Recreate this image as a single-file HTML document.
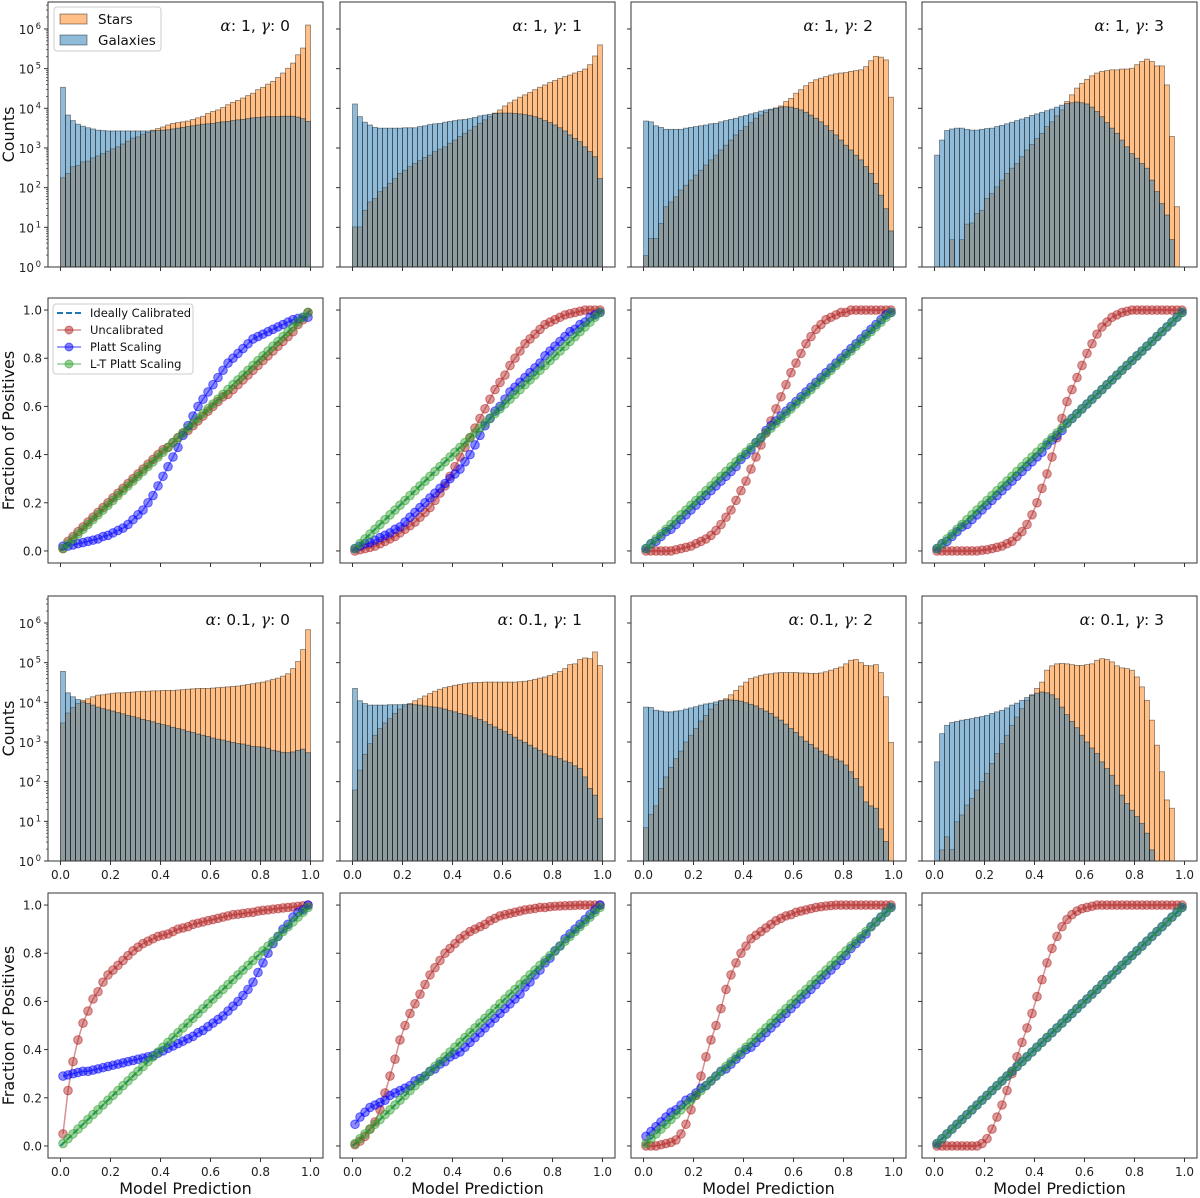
<!DOCTYPE html>
<html><head><meta charset="utf-8"><title>Calibration grid</title>
<style>
html,body{margin:0;padding:0;background:#fff;}
svg{display:block;font-family:"DejaVu Sans","Liberation Sans",sans-serif;}
</style></head>
<body>
<svg id="fig" xmlns="http://www.w3.org/2000/svg" width="1200" height="1198" viewBox="0 0 1200 1198"></svg>
<script>
// ---------- data ----------
const binCenters = [0.01,0.03,0.05,0.07,0.09,0.11,0.13,0.15,0.17,0.19,0.21,0.23,0.25,0.27,0.29,0.31,0.33,0.35,0.37,0.39,0.41,0.43,0.45,0.47,0.49,0.51,0.53,0.55,0.57,0.59,0.61,0.63,0.65,0.67,0.69,0.71,0.73,0.75,0.77,0.79,0.81,0.83,0.85,0.87,0.89,0.91,0.93,0.95,0.97,0.99];
const xTickLabels = ["0.0","0.2","0.4","0.6","0.8","1.0"];
const xTickValues = [0,0.2,0.4,0.6,0.8,1.0];
const calTickValues = [0,0.2,0.4,0.6,0.8,1.0];
const calTickLabels = ["0.0","0.2","0.4","0.6","0.8","1.0"];
const logTickExponents = [0,1,2,3,4,5,6];
const panelTitles = ["α: 1, γ: 0","α: 1, γ: 1","α: 1, γ: 2","α: 1, γ: 3","α: 0.1, γ: 0","α: 0.1, γ: 1","α: 0.1, γ: 2","α: 0.1, γ: 3"];

// histogram values: log10(counts) per bin (0 = empty bin)
const stars_a1_g0 = [2.25,2.36,2.53,2.56,2.65,2.67,2.75,2.8,2.86,2.92,2.98,3.03,3.1,3.17,3.25,3.28,3.35,3.39,3.45,3.49,3.53,3.58,3.62,3.64,3.66,3.68,3.72,3.76,3.8,3.87,3.92,3.96,4.02,4.09,4.15,4.2,4.26,4.32,4.38,4.47,4.53,4.61,4.68,4.78,4.89,5.01,5.14,5.35,5.52,6.1];
const galaxies_a1_g0 = [4.53,3.83,3.69,3.6,3.55,3.51,3.48,3.45,3.44,3.43,3.43,3.43,3.43,3.43,3.43,3.43,3.43,3.43,3.43,3.44,3.45,3.46,3.48,3.5,3.52,3.54,3.56,3.58,3.6,3.61,3.62,3.64,3.66,3.67,3.69,3.71,3.72,3.74,3.76,3.77,3.78,3.79,3.79,3.79,3.8,3.8,3.8,3.78,3.74,3.67];
const stars_a1_g1 = [1.01,1.01,1.43,1.64,1.73,1.9,2.0,2.11,2.23,2.36,2.44,2.53,2.61,2.68,2.76,2.82,2.91,2.97,3.03,3.12,3.2,3.29,3.37,3.45,3.54,3.62,3.71,3.79,3.88,3.96,4.06,4.14,4.21,4.28,4.34,4.4,4.47,4.53,4.59,4.65,4.7,4.75,4.8,4.84,4.89,4.93,4.99,5.1,5.32,5.6];
const galaxies_a1_g1 = [4.11,3.79,3.65,3.58,3.52,3.5,3.5,3.5,3.5,3.5,3.51,3.51,3.51,3.54,3.56,3.59,3.61,3.62,3.65,3.67,3.69,3.71,3.72,3.74,3.77,3.81,3.83,3.85,3.87,3.88,3.88,3.88,3.87,3.86,3.84,3.82,3.79,3.75,3.69,3.64,3.58,3.51,3.43,3.33,3.24,3.16,3.03,2.91,2.78,2.23];
const stars_a1_g2 = [0.29,0.72,0.72,1.1,1.52,1.64,1.77,1.94,2.06,2.19,2.32,2.44,2.57,2.7,2.82,2.95,3.07,3.2,3.33,3.44,3.54,3.64,3.75,3.83,3.9,3.96,4.0,4.06,4.17,4.25,4.38,4.47,4.57,4.65,4.72,4.76,4.8,4.84,4.87,4.89,4.9,4.93,4.95,4.97,5.05,5.2,5.31,5.29,5.22,4.28];
const galaxies_a1_g2 = [3.68,3.66,3.56,3.52,3.47,3.47,3.47,3.47,3.5,3.52,3.54,3.56,3.58,3.61,3.62,3.66,3.69,3.72,3.75,3.79,3.82,3.86,3.89,3.93,3.96,3.98,4.01,4.03,4.04,4.03,4.0,3.96,3.9,3.83,3.75,3.66,3.56,3.44,3.33,3.2,3.07,2.95,2.82,2.7,2.53,2.36,2.11,1.81,1.47,0.91];
const stars_a1_g3 = [0,0,0,0.69,0,0.69,1.08,1.11,1.35,1.43,1.73,1.85,2.02,2.19,2.36,2.49,2.61,2.78,2.95,3.09,3.24,3.37,3.54,3.66,3.81,3.96,4.17,4.34,4.51,4.63,4.73,4.82,4.89,4.93,4.95,4.97,4.97,4.99,4.99,5.01,5.1,5.18,5.24,5.18,5.07,5.07,4.59,3.29,1.52,0];
const galaxies_a1_g3 = [2.82,3.2,3.44,3.48,3.5,3.5,3.47,3.45,3.45,3.47,3.49,3.5,3.54,3.57,3.61,3.65,3.69,3.73,3.77,3.82,3.86,3.9,3.94,3.98,4.03,4.08,4.12,4.14,4.16,4.14,4.11,4.03,3.92,3.79,3.64,3.5,3.37,3.2,3.03,2.86,2.74,2.61,2.49,2.19,1.9,1.6,1.31,0.69,0,0];
const stars_a01_g0 = [3.48,3.73,3.87,3.97,4.05,4.09,4.14,4.18,4.19,4.21,4.23,4.24,4.24,4.25,4.26,4.27,4.28,4.28,4.29,4.29,4.3,4.3,4.3,4.31,4.32,4.33,4.34,4.35,4.35,4.35,4.36,4.37,4.38,4.39,4.4,4.41,4.43,4.45,4.47,4.49,4.51,4.54,4.58,4.61,4.66,4.72,4.85,5.03,5.33,5.83];
const galaxies_a01_g0 = [4.78,4.24,4.14,4.07,4.01,3.97,3.93,3.88,3.84,3.81,3.78,3.74,3.71,3.67,3.64,3.61,3.57,3.54,3.51,3.47,3.44,3.41,3.37,3.34,3.31,3.27,3.24,3.2,3.17,3.14,3.1,3.07,3.05,3.02,2.99,2.96,2.95,2.92,2.89,2.88,2.87,2.84,2.79,2.77,2.74,2.73,2.75,2.79,2.82,2.73];
const stars_a01_g1 = [1.79,2.29,2.69,2.96,3.17,3.34,3.48,3.59,3.72,3.83,3.91,3.97,4.04,4.09,4.16,4.22,4.28,4.33,4.37,4.4,4.43,4.45,4.47,4.49,4.5,4.5,4.51,4.51,4.51,4.51,4.51,4.51,4.51,4.52,4.53,4.55,4.58,4.61,4.64,4.68,4.72,4.78,4.85,4.95,4.97,5.08,5.12,5.1,5.27,4.93];
const galaxies_a01_g1 = [4.35,4.04,3.97,3.93,3.93,3.93,3.93,3.94,3.94,3.94,3.95,3.95,3.94,3.93,3.91,3.89,3.88,3.86,3.83,3.79,3.76,3.72,3.69,3.66,3.61,3.57,3.51,3.44,3.38,3.32,3.26,3.19,3.12,3.05,2.99,2.92,2.85,2.79,2.7,2.65,2.63,2.58,2.52,2.48,2.4,2.33,2.12,1.83,1.66,1.07];
const stars_a01_g2 = [0.84,1.17,1.39,1.83,2.12,2.36,2.58,2.77,3.0,3.17,3.34,3.53,3.67,3.83,3.94,4.04,4.09,4.19,4.3,4.41,4.51,4.6,4.64,4.68,4.71,4.72,4.74,4.75,4.75,4.75,4.75,4.74,4.74,4.73,4.73,4.74,4.77,4.81,4.85,4.89,4.97,5.06,5.08,5.0,4.93,4.92,4.95,4.75,4.14,2.99];
const galaxies_a01_g2 = [3.88,3.87,3.8,3.78,3.76,3.76,3.78,3.79,3.83,3.86,3.89,3.93,3.96,3.98,4.01,4.04,4.06,4.06,4.05,4.03,3.99,3.95,3.91,3.84,3.78,3.72,3.63,3.55,3.45,3.34,3.24,3.13,3.02,2.94,2.85,2.77,2.68,2.63,2.57,2.52,2.42,2.25,2.08,1.87,1.49,1.39,1.33,0.81,0.49,0];
const stars_a01_g3 = [0,0.28,0.61,0.29,0.99,1.16,1.41,1.58,1.79,2.0,2.21,2.46,2.71,2.96,3.17,3.42,3.63,3.84,4.05,4.19,4.35,4.51,4.81,4.92,4.97,4.98,4.97,4.95,4.93,4.93,4.95,4.97,5.06,5.1,5.08,5.02,4.92,4.87,4.85,4.81,4.64,4.39,4.05,3.55,2.92,2.25,1.54,1.33,0,0];
const galaxies_a01_g3 = [2.5,3.21,3.42,3.49,3.52,3.55,3.57,3.59,3.62,3.64,3.67,3.72,3.76,3.8,3.86,3.93,3.98,4.05,4.12,4.18,4.23,4.26,4.24,4.19,4.09,3.88,3.69,3.52,3.36,3.17,3.0,2.85,2.71,2.5,2.33,2.16,1.91,1.66,1.45,1.28,1.12,0.95,0.7,0.28,0,0,0,0,0,0];

// calibration curves: fraction of positives per bin
const uncal_a1_g0 = [0.01,0.04,0.06,0.08,0.1,0.12,0.14,0.16,0.18,0.2,0.22,0.24,0.26,0.28,0.3,0.32,0.34,0.36,0.38,0.4,0.42,0.43,0.45,0.47,0.49,0.5,0.52,0.54,0.56,0.58,0.6,0.62,0.64,0.65,0.67,0.69,0.71,0.73,0.75,0.77,0.79,0.81,0.83,0.85,0.87,0.89,0.91,0.94,0.96,0.99];
const platt_a1_g0 = [0.02,0.02,0.025,0.03,0.035,0.04,0.045,0.05,0.06,0.065,0.075,0.085,0.095,0.11,0.13,0.15,0.17,0.2,0.23,0.27,0.31,0.35,0.39,0.43,0.48,0.52,0.56,0.6,0.63,0.66,0.69,0.72,0.75,0.78,0.8,0.82,0.84,0.86,0.88,0.89,0.9,0.91,0.92,0.93,0.94,0.95,0.96,0.965,0.97,0.97];
const ltplatt_a1_g0 = [0.01,0.03,0.05,0.07,0.09,0.11,0.13,0.15,0.17,0.19,0.21,0.23,0.25,0.27,0.29,0.31,0.33,0.35,0.37,0.39,0.41,0.43,0.45,0.47,0.49,0.51,0.53,0.55,0.57,0.59,0.61,0.63,0.65,0.67,0.69,0.71,0.73,0.75,0.77,0.79,0.81,0.83,0.85,0.87,0.89,0.91,0.93,0.95,0.97,0.99];
const uncal_a1_g1 = [0,0.005,0.01,0.015,0.02,0.03,0.04,0.05,0.06,0.075,0.09,0.105,0.12,0.14,0.16,0.18,0.21,0.24,0.27,0.31,0.35,0.39,0.43,0.47,0.51,0.55,0.59,0.63,0.67,0.7,0.73,0.77,0.8,0.83,0.86,0.88,0.9,0.92,0.94,0.95,0.96,0.97,0.98,0.985,0.99,0.995,1,1,1,1];
const platt_a1_g1 = [0.01,0.02,0.03,0.035,0.045,0.055,0.065,0.075,0.09,0.1,0.12,0.14,0.16,0.18,0.2,0.22,0.24,0.26,0.28,0.3,0.32,0.34,0.37,0.4,0.44,0.48,0.52,0.55,0.58,0.6,0.63,0.66,0.68,0.7,0.72,0.74,0.76,0.78,0.81,0.83,0.85,0.87,0.89,0.91,0.92,0.94,0.95,0.97,0.98,0.99];
const ltplatt_a1_g1 = [0.01,0.03,0.05,0.07,0.09,0.11,0.13,0.15,0.17,0.19,0.21,0.23,0.25,0.27,0.29,0.31,0.33,0.35,0.37,0.39,0.41,0.43,0.45,0.47,0.49,0.51,0.53,0.55,0.57,0.59,0.61,0.63,0.65,0.67,0.69,0.71,0.73,0.75,0.77,0.79,0.81,0.83,0.85,0.87,0.89,0.91,0.93,0.95,0.97,0.99];
const uncal_a1_g2 = [0,0,0,0,0,0,0.005,0.01,0.015,0.02,0.03,0.04,0.05,0.065,0.085,0.11,0.14,0.17,0.21,0.25,0.29,0.34,0.39,0.44,0.49,0.54,0.59,0.64,0.69,0.74,0.78,0.82,0.86,0.89,0.92,0.94,0.96,0.97,0.98,0.99,0.99,1,1,1,1,1,1,1,1,1];
const platt_a1_g2 = [0.01,0.03,0.04,0.06,0.08,0.09,0.11,0.13,0.15,0.17,0.19,0.21,0.23,0.25,0.27,0.29,0.31,0.33,0.35,0.38,0.4,0.42,0.45,0.47,0.5,0.52,0.54,0.56,0.58,0.6,0.62,0.64,0.66,0.68,0.7,0.72,0.74,0.76,0.78,0.8,0.82,0.84,0.86,0.88,0.9,0.92,0.94,0.96,0.98,0.99];
const ltplatt_a1_g2 = [0.01,0.03,0.05,0.07,0.09,0.11,0.13,0.15,0.17,0.19,0.21,0.23,0.25,0.27,0.29,0.31,0.33,0.35,0.37,0.39,0.41,0.43,0.45,0.47,0.49,0.51,0.53,0.55,0.57,0.59,0.61,0.63,0.65,0.67,0.69,0.71,0.73,0.75,0.77,0.79,0.81,0.83,0.85,0.87,0.89,0.91,0.93,0.95,0.97,0.99];
const uncal_a1_g3 = [0,0,0,0,0,0,0,0,0,0.003,0.005,0.01,0.015,0.02,0.03,0.04,0.06,0.08,0.11,0.15,0.2,0.26,0.32,0.39,0.47,0.55,0.62,0.67,0.72,0.77,0.82,0.86,0.9,0.93,0.95,0.97,0.98,0.99,0.995,1,1,1,1,1,1,1,1,1,1,1];
const platt_a1_g3 = [0.01,0.03,0.04,0.06,0.08,0.1,0.11,0.13,0.15,0.17,0.19,0.21,0.23,0.25,0.27,0.29,0.31,0.33,0.35,0.37,0.39,0.41,0.44,0.46,0.48,0.5,0.53,0.55,0.57,0.59,0.61,0.63,0.65,0.67,0.69,0.71,0.73,0.75,0.77,0.79,0.81,0.83,0.85,0.87,0.89,0.91,0.93,0.95,0.97,0.99];
const ltplatt_a1_g3 = [0.01,0.03,0.05,0.07,0.09,0.11,0.13,0.15,0.17,0.19,0.21,0.23,0.25,0.27,0.29,0.31,0.33,0.35,0.37,0.39,0.41,0.43,0.45,0.47,0.49,0.51,0.53,0.55,0.57,0.59,0.61,0.63,0.65,0.67,0.69,0.71,0.73,0.75,0.77,0.79,0.81,0.83,0.85,0.87,0.89,0.91,0.93,0.95,0.97,0.99];
const uncal_a01_g0 = [0.05,0.23,0.35,0.44,0.51,0.56,0.61,0.64,0.68,0.71,0.73,0.75,0.77,0.79,0.81,0.825,0.84,0.85,0.86,0.87,0.875,0.88,0.89,0.9,0.905,0.91,0.92,0.925,0.93,0.935,0.94,0.945,0.95,0.955,0.96,0.962,0.965,0.968,0.97,0.975,0.978,0.98,0.983,0.985,0.988,0.99,0.992,0.995,0.997,1];
const platt_a01_g0 = [0.29,0.295,0.3,0.305,0.31,0.31,0.315,0.32,0.325,0.33,0.335,0.34,0.345,0.35,0.355,0.36,0.365,0.37,0.375,0.385,0.395,0.405,0.415,0.425,0.435,0.445,0.455,0.47,0.48,0.495,0.51,0.525,0.54,0.56,0.58,0.6,0.625,0.65,0.68,0.72,0.76,0.8,0.84,0.87,0.9,0.92,0.95,0.97,0.98,1];
const ltplatt_a01_g0 = [0.01,0.03,0.05,0.07,0.09,0.11,0.13,0.15,0.17,0.19,0.21,0.23,0.25,0.27,0.29,0.31,0.33,0.35,0.37,0.39,0.41,0.43,0.45,0.47,0.49,0.51,0.53,0.55,0.57,0.59,0.61,0.63,0.65,0.67,0.69,0.71,0.73,0.75,0.77,0.79,0.81,0.83,0.85,0.87,0.89,0.91,0.93,0.95,0.97,0.99];
const uncal_a01_g1 = [0.005,0.02,0.04,0.07,0.1,0.15,0.22,0.29,0.36,0.44,0.5,0.55,0.59,0.63,0.67,0.71,0.74,0.77,0.8,0.82,0.84,0.86,0.875,0.89,0.9,0.91,0.92,0.935,0.945,0.955,0.96,0.965,0.97,0.975,0.98,0.983,0.986,0.99,0.99,0.993,0.995,0.996,0.997,0.998,0.999,1,1,1,1,1];
const platt_a01_g1 = [0.09,0.12,0.14,0.16,0.17,0.18,0.19,0.21,0.22,0.23,0.24,0.25,0.27,0.28,0.29,0.31,0.32,0.34,0.35,0.37,0.38,0.39,0.41,0.43,0.45,0.47,0.49,0.51,0.53,0.55,0.57,0.59,0.61,0.63,0.66,0.68,0.71,0.73,0.76,0.78,0.81,0.83,0.86,0.88,0.9,0.92,0.94,0.96,0.98,1];
const ltplatt_a01_g1 = [0.01,0.03,0.05,0.07,0.09,0.11,0.13,0.15,0.17,0.19,0.21,0.23,0.25,0.27,0.29,0.31,0.33,0.35,0.37,0.39,0.41,0.43,0.45,0.47,0.49,0.51,0.53,0.55,0.57,0.59,0.61,0.63,0.65,0.67,0.69,0.71,0.73,0.75,0.77,0.79,0.81,0.83,0.85,0.87,0.89,0.91,0.93,0.95,0.97,0.99];
const uncal_a01_g2 = [0,0,0,0.005,0.01,0.015,0.025,0.05,0.09,0.15,0.21,0.29,0.37,0.44,0.5,0.57,0.65,0.71,0.76,0.8,0.83,0.86,0.875,0.89,0.905,0.92,0.935,0.945,0.955,0.96,0.97,0.975,0.98,0.985,0.99,0.993,0.996,0.998,1,1,1,1,1,1,1,1,1,1,1,1];
const platt_a01_g2 = [0.04,0.06,0.08,0.1,0.12,0.14,0.15,0.17,0.19,0.2,0.22,0.24,0.25,0.27,0.29,0.31,0.32,0.34,0.36,0.38,0.4,0.41,0.43,0.45,0.47,0.49,0.51,0.53,0.55,0.57,0.59,0.61,0.63,0.65,0.67,0.69,0.71,0.73,0.75,0.77,0.79,0.82,0.84,0.86,0.88,0.91,0.93,0.95,0.97,0.99];
const ltplatt_a01_g2 = [0.01,0.03,0.05,0.07,0.09,0.11,0.13,0.15,0.17,0.19,0.21,0.23,0.25,0.27,0.29,0.31,0.33,0.35,0.37,0.39,0.41,0.43,0.45,0.47,0.49,0.51,0.53,0.55,0.57,0.59,0.61,0.63,0.65,0.67,0.69,0.71,0.73,0.75,0.77,0.79,0.81,0.83,0.85,0.87,0.89,0.91,0.93,0.95,0.97,0.99];
const uncal_a01_g3 = [0,0,0,0,0,0,0,0,0,0.01,0.03,0.07,0.12,0.17,0.23,0.3,0.37,0.43,0.49,0.55,0.62,0.69,0.76,0.82,0.87,0.91,0.94,0.96,0.975,0.985,0.99,0.995,1,1,1,1,1,1,1,1,1,1,1,1,1,1,1,1,1,1];
const platt_a01_g3 = [0.01,0.03,0.05,0.07,0.09,0.11,0.13,0.15,0.17,0.19,0.21,0.23,0.25,0.27,0.29,0.31,0.33,0.35,0.37,0.39,0.41,0.43,0.45,0.47,0.49,0.51,0.53,0.55,0.57,0.59,0.61,0.63,0.65,0.67,0.69,0.71,0.73,0.75,0.77,0.79,0.81,0.83,0.85,0.87,0.89,0.91,0.93,0.95,0.97,0.99];
const ltplatt_a01_g3 = [0.01,0.03,0.05,0.07,0.09,0.11,0.13,0.15,0.17,0.19,0.21,0.23,0.25,0.27,0.29,0.31,0.33,0.35,0.37,0.39,0.41,0.43,0.45,0.47,0.49,0.51,0.53,0.55,0.57,0.59,0.61,0.63,0.65,0.67,0.69,0.71,0.73,0.75,0.77,0.79,0.81,0.83,0.85,0.87,0.89,0.91,0.93,0.95,0.97,0.99];

// ---------- layout ----------
const NS = "http://www.w3.org/2000/svg";
const svg = document.getElementById("fig");
const colLeft = [48, 340, 631, 922];
const rowTop = [2, 298, 596, 893];
const AW = 275, AH = 265;
const LOGMAX = 6.68;

function el(tag, attrs, parent) {
  const e = document.createElementNS(NS, tag);
  for (const k in attrs) e.setAttribute(k, attrs[k]);
  (parent || svg).appendChild(e);
  return e;
}
function xScale(col) { return v => colLeft[col] + AW * (v + 0.05) / 1.1; }
function yLog(row) { return L => rowTop[row] + AH - AH * L / LOGMAX; }
function yLin(row) { return v => rowTop[row] + AH - AH * (v + 0.05) / 1.1; }

function drawFrame(g, col, row) {
  const r = el("rect", {x: colLeft[col], y: rowTop[row], width: AW, height: AH, fill: "none", stroke: "#333", "stroke-width": 1}, g);
  
  
}

function drawXTicks(g, col, row, labels) {
  const xs = xScale(col), yb = rowTop[row] + AH;
  xTickValues.forEach((v, i) => {
    const t = el("line", {x1: xs(v), x2: xs(v), y1: yb, y2: yb + 4, stroke: "#333", "stroke-width": 1}, g);
    
    
    if (labels) {
      const tx = el("text", {x: xs(v), y: yb + 18, "font-size": 12, "text-anchor": "middle", fill: "#222"}, g);
      tx.textContent = xTickLabels[i];
      
      
    }
  });
}

function drawTitle(g, col, row, title) {
  const tt = el("text", {x: colLeft[col] + AW - 33, y: rowTop[row] + 29, "font-size": 15.5, "text-anchor": "end", fill: "#111"}, g);
  
  
  let buf = "";
  const flush = () => { if (buf) { const s = el("tspan", {}, tt); s.textContent = buf; buf = ""; } };
  for (const ch of title) {
    if (ch === "α" || ch === "γ") {
      flush();
      const s = el("tspan", {"font-style": "italic", "font-family": "DejaVu Serif, Liberation Serif, serif"}, tt);
      s.textContent = ch;
    } else buf += ch;
  }
  flush();
}

function drawHist(idx, col, row, stars, gals, title, withYLabels, withXLabels) {
  const g = el("g", {});
  
  
  const xs = xScale(col), ys = yLog(row), yb = rowTop[row] + AH;
  const bw = xs(0.02) - xs(0);
  [[stars, "#ff7f0e", "stars"], [gals, "#1f77b4", "galaxies"]].forEach(([arr, c, nm]) => {
    arr.forEach((L, i) => {
      if (L <= 0) return;
      const y = ys(L);
      const b = el("rect", {x: xs(i * 0.02), y: y, width: bw, height: yb - y, fill: c, "fill-opacity": 0.5, stroke: "#000", "stroke-opacity": 0.45, "stroke-width": 0.8}, g);
      
      
    });
  });
  drawFrame(g, col, row);
  logTickExponents.forEach(e => {
    const y = ys(e);
    const t = el("line", {x1: colLeft[col] - 4, x2: colLeft[col], y1: y, y2: y, stroke: "#333", "stroke-width": 1}, g);
    
    
    if (withYLabels) {
      const tx = el("text", {x: colLeft[col] - 14, y: y + 5, "font-size": 12, "text-anchor": "end", fill: "#222"}, g);
      tx.textContent = "10";
      const sup = el("tspan", {x: colLeft[col] - 7, dy: -5, "font-size": 8.5, "text-anchor": "end"}, tx);
      sup.textContent = String(e);
      
      
      for (let m = 2; m <= 9; m++) {
        const L = e + Math.log10(m);
        if (L > LOGMAX) break;
        const mt = el("line", {x1: colLeft[col] - 2, x2: colLeft[col], y1: ys(L), y2: ys(L), stroke: "#333", "stroke-width": 0.7}, g);
        
        
      }
    }
  });
  drawXTicks(g, col, row, withXLabels);
  drawTitle(g, col, row, title);
}

function drawCal(idx, col, row, uncal, platt, lt, withYLabels, withXLabels) {
  const g = el("g", {});
  
  
  const xs = xScale(col), ys = yLin(row);
  const ideal = el("line", {x1: xs(0), y1: ys(0), x2: xs(1), y2: ys(1), stroke: "#1f77b4", "stroke-width": 2, "stroke-dasharray": "6,3"}, g);
  
  
  [[uncal, "#b22222", "uncalibrated"], [platt, "#0000ff", "platt-scaling"], [lt, "#2ca02c", "lt-platt-scaling"]].forEach(([arr, c, nm]) => {
    const pts = arr.map((v, i) => xs(binCenters[i]).toFixed(1) + "," + ys(v).toFixed(1)).join(" ");
    const pl = el("polyline", {points: pts, fill: "none", stroke: c, "stroke-width": 1.5, "stroke-opacity": 0.5}, g);
    
    
    arr.forEach((v, i) => {
      const p = el("circle", {cx: xs(binCenters[i]), cy: ys(v), r: 4.3, fill: c, "fill-opacity": 0.45, stroke: c, "stroke-opacity": 0.55, "stroke-width": 1}, g);
      
      
    });
  });
  drawFrame(g, col, row);
  calTickValues.forEach((v, i) => {
    const y = ys(v);
    const t = el("line", {x1: colLeft[col] - 4, x2: colLeft[col], y1: y, y2: y, stroke: "#333", "stroke-width": 1}, g);
    
    
    if (withYLabels) {
      const tx = el("text", {x: colLeft[col] - 6, y: y + 4.5, "font-size": 12, "text-anchor": "end", fill: "#222"}, g);
      tx.textContent = calTickLabels[i];
      
      
    }
  });
  drawXTicks(g, col, row, withXLabels);
}

const histStars = [stars_a1_g0, stars_a1_g1, stars_a1_g2, stars_a1_g3, stars_a01_g0, stars_a01_g1, stars_a01_g2, stars_a01_g3];
const histGals = [galaxies_a1_g0, galaxies_a1_g1, galaxies_a1_g2, galaxies_a1_g3, galaxies_a01_g0, galaxies_a01_g1, galaxies_a01_g2, galaxies_a01_g3];
const calUncal = [uncal_a1_g0, uncal_a1_g1, uncal_a1_g2, uncal_a1_g3, uncal_a01_g0, uncal_a01_g1, uncal_a01_g2, uncal_a01_g3];
const calPlatt = [platt_a1_g0, platt_a1_g1, platt_a1_g2, platt_a1_g3, platt_a01_g0, platt_a01_g1, platt_a01_g2, platt_a01_g3];
const calLT = [ltplatt_a1_g0, ltplatt_a1_g1, ltplatt_a1_g2, ltplatt_a1_g3, ltplatt_a01_g0, ltplatt_a01_g1, ltplatt_a01_g2, ltplatt_a01_g3];

for (let k = 0; k < 8; k++) {
  const col = k % 4, block = Math.floor(k / 4);
  drawHist(k, col, block * 2, histStars[k], histGals[k], panelTitles[k], col === 0, block === 1);
  drawCal(k, col, block * 2 + 1, calUncal[k], calPlatt[k], calLT[k], col === 0, block === 1);
}

[["Counts", 0], ["Fraction of Positives", 1], ["Counts", 2], ["Fraction of Positives", 3]].forEach(([txt, row]) => {
  const cy = rowTop[row] + AH / 2;
  const t = el("text", {x: 0, y: 0, "font-size": 16, "text-anchor": "middle", fill: "#111", transform: `translate(14,${cy}) rotate(-90)`});
  t.textContent = txt;
  
  
});
colLeft.forEach(l => {
  const t = el("text", {x: l + AW / 2, y: 1194, "font-size": 16, "text-anchor": "middle", fill: "#111"});
  t.textContent = "Model Prediction";
  
  
});

const lg1 = el("g", {});


el("rect", {x: 54, y: 7, width: 107, height: 44, rx: 3, fill: "#fff", "fill-opacity": 0.8, stroke: "#ccc"}, lg1);
[["Stars", "#ff7f0e", 14], ["Galaxies", "#1f77b4", 35]].forEach(([txt, c, y]) => {
  const p = el("rect", {x: 60, y: y, width: 27, height: 10, fill: c, "fill-opacity": 0.5, stroke: "#000", "stroke-opacity": 0.4}, lg1);
  
  
  const t = el("text", {x: 98, y: y + 10, "font-size": 13.5, fill: "#111"}, lg1);
  t.textContent = txt;
  
  
});

const lg2 = el("g", {});


el("rect", {x: 53, y: 304, width: 140, height: 70, rx: 3, fill: "#fff", "fill-opacity": 0.8, stroke: "#ccc"}, lg2);
[["Ideally Calibrated", "#1f77b4", 313, true], ["Uncalibrated", "#b22222", 330, false], ["Platt Scaling", "#0000ff", 347, false], ["L-T Platt Scaling", "#2ca02c", 364, false]].forEach(([txt, c, y, dash]) => {
  if (dash) {
    el("line", {x1: 57, x2: 81, y1: y, y2: y, stroke: c, "stroke-width": 2, "stroke-dasharray": "6,3"}, lg2);
  } else {
    el("line", {x1: 57, x2: 81, y1: y, y2: y, stroke: c, "stroke-width": 1.5, "stroke-opacity": 0.5}, lg2);
    el("circle", {cx: 69, cy: y, r: 4, fill: c, "fill-opacity": 0.5, stroke: c, "stroke-opacity": 0.5}, lg2);
  }
  const t = el("text", {x: 90, y: y + 4, "font-size": 11.5, fill: "#111"}, lg2);
  t.textContent = txt;
  
  
});
</script>
</body></html>
